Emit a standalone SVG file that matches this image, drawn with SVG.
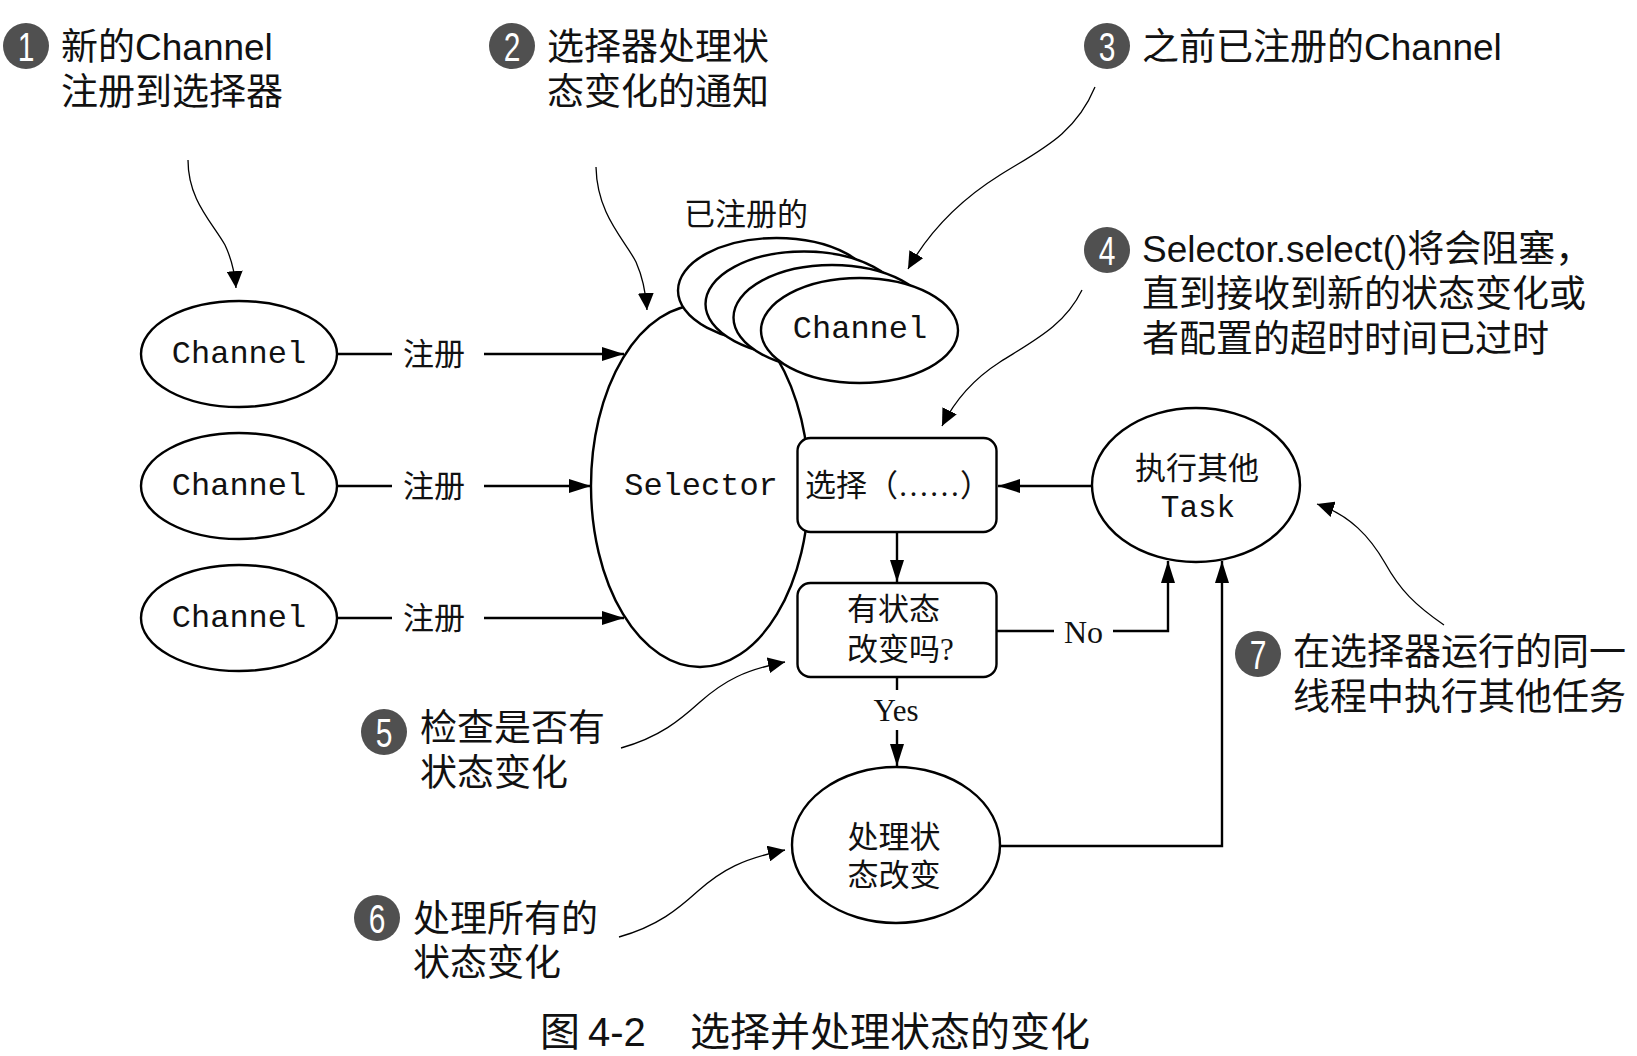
<svg xmlns="http://www.w3.org/2000/svg" width="1637" height="1056" viewBox="0 0 1637 1056">
<defs>
<marker id="ah" markerUnits="userSpaceOnUse" markerWidth="22" markerHeight="14" refX="22" refY="7" orient="auto"><path d="M0,0 L22,7 L0,14 z" fill="#000"/></marker>
<marker id="ahs" markerUnits="userSpaceOnUse" markerWidth="17" markerHeight="16" refX="17" refY="8" orient="auto"><path d="M0,0 L17,8 L0,16 z" fill="#000"/></marker>
</defs>
<style>
.shape{fill:#fff;stroke:#000;stroke-width:2.4}
.conn{fill:none;stroke:#000;stroke-width:2.4}
.call{fill:none;stroke:#000;stroke-width:1.3}
.mono{font-family:"Liberation Mono","DejaVu Sans Mono",monospace;font-size:32px;fill:#111}
.ser{font-family:"Liberation Serif","Noto Sans CJK SC",serif;font-size:31px;fill:#111}
.ann{font-family:"Liberation Sans","Noto Sans CJK SC",sans-serif;font-size:37px;fill:#111}
.num circle{fill:#505050}
.num text{font-family:"Liberation Sans",sans-serif;font-size:40px;fill:#fff;text-anchor:middle}
</style>
<rect width="1637" height="1056" fill="#fff"/>

<g id="selector"><ellipse class="shape" cx="700" cy="486" rx="109" ry="181"/><text class="mono" x="701" y="495" text-anchor="middle">Selector</text></g>

<g id="registered-stack">
<ellipse class="shape" cx="776.5" cy="290.5" rx="98.5" ry="52.5"/>
<ellipse class="shape" cx="804" cy="304" rx="98.5" ry="52.5"/>
<ellipse class="shape" cx="832" cy="317.5" rx="98.5" ry="52.5"/>
<ellipse class="shape" cx="859.5" cy="330.5" rx="98.5" ry="52.5"/>
<text class="mono" x="860" y="338" text-anchor="middle">Channel</text>
<text class="ser" x="746" y="225" text-anchor="middle">已注册的</text>
</g>

<g id="channel1"><ellipse class="shape" cx="239" cy="354" rx="98" ry="53"/><text class="mono" x="239" y="363" text-anchor="middle">Channel</text></g>
<g id="channel2"><ellipse class="shape" cx="239" cy="486" rx="98" ry="53"/><text class="mono" x="239" y="495" text-anchor="middle">Channel</text></g>
<g id="channel3"><ellipse class="shape" cx="239" cy="618" rx="98" ry="53"/><text class="mono" x="239" y="627" text-anchor="middle">Channel</text></g>

<g id="select-box"><rect class="shape" x="797.5" y="438" width="199" height="94" rx="13"/><text class="ser" x="805" y="496">选择（……）</text></g>
<g id="check-box"><rect class="shape" x="797.5" y="583" width="199" height="94" rx="13"/><text class="ser" x="847" y="620">有状态</text><text class="ser" x="847" y="660">改变吗?</text></g>
<g id="task"><ellipse class="shape" cx="1196" cy="485" rx="104" ry="77"/><text class="ser" x="1197" y="479" text-anchor="middle">执行其他</text><text class="mono" x="1198" y="517" text-anchor="middle" style="font-size:31px">Task</text></g>
<g id="process"><ellipse class="shape" cx="896" cy="845" rx="104" ry="78"/><text class="ser" x="894" y="848" text-anchor="middle">处理状</text><text class="ser" x="894" y="886" text-anchor="middle">态改变</text></g>

<g id="connectors">
<path class="conn" d="M337,354 H392"/><path class="conn" d="M484,354 H624" marker-end="url(#ah)"/>
<path class="conn" d="M337,486 H392"/><path class="conn" d="M484,486 H591" marker-end="url(#ah)"/>
<path class="conn" d="M337,618 H392"/><path class="conn" d="M484,618 H624" marker-end="url(#ah)"/>
<text class="ser" x="403" y="365">注册</text>
<text class="ser" x="403" y="497">注册</text>
<text class="ser" x="403" y="629">注册</text>
<path class="conn" d="M1092,486 H998" marker-end="url(#ah)"/>
<path class="conn" d="M897,532 V582" marker-end="url(#ah)"/>
<path class="conn" d="M997,631 H1054"/>
<path class="conn" d="M1113,631 H1168 V561" marker-end="url(#ah)"/>
<text class="ser" x="1064" y="643" style="font-size:32px">No</text>
<path class="conn" d="M897,677 V690"/>
<path class="conn" d="M897,730 V766" marker-end="url(#ah)"/>
<text class="ser" x="896" y="721" text-anchor="middle">Yes</text>
<path class="conn" d="M1000,846 H1222 V561" marker-end="url(#ah)"/>
<path class="call" d="M188,160 C188,200 212,222 225,245 C233,262 235,275 236,288" marker-end="url(#ahs)"/>
<path class="call" d="M596,167 C597,215 625,240 636,262 C644,280 646,295 647,310" marker-end="url(#ahs)"/>
<path class="call" d="M1095,87 C1075,135 1040,150 1000,175 C960,200 930,230 908,269" marker-end="url(#ahs)"/>
<path class="call" d="M1082,290 C1065,325 1035,340 1000,362 C975,378 955,400 942,426" marker-end="url(#ahs)"/>
<path class="call" d="M621,748 C660,737 680,720 700,702 C725,680 745,670 785,662" marker-end="url(#ahs)"/>
<path class="call" d="M619,937 C658,926 678,909 698,891 C723,869 743,859 785,850" marker-end="url(#ahs)"/>
<path class="call" d="M1444,625 C1415,605 1400,590 1385,563 C1370,537 1350,515 1317,504" marker-end="url(#ahs)"/>
</g>

<g id="note1"><g class="num"><circle cx="26" cy="46" r="23"/><text transform="translate(26,61) scale(0.75,1)">1</text></g>
<text class="ann" x="61" y="60">新的Channel</text><text class="ann" x="61" y="105">注册到选择器</text></g>
<g id="note2"><g class="num"><circle cx="512" cy="46" r="23"/><text transform="translate(512,61) scale(0.75,1)">2</text></g>
<text class="ann" x="547" y="60">选择器处理状</text><text class="ann" x="547" y="105">态变化的通知</text></g>
<g id="note3"><g class="num"><circle cx="1107" cy="46" r="23"/><text transform="translate(1107,61) scale(0.75,1)">3</text></g>
<text class="ann" x="1142" y="60">之前已注册的Channel</text></g>
<g id="note4"><g class="num"><circle cx="1107" cy="250" r="23"/><text transform="translate(1107,265) scale(0.75,1)">4</text></g>
<text class="ann" x="1142" y="262">Selector.select()将会阻塞，</text><text class="ann" x="1142" y="307">直到接收到新的状态变化或</text><text class="ann" x="1142" y="352">者配置的超时时间已过时</text></g>
<g id="note5"><g class="num"><circle cx="384" cy="732" r="23"/><text transform="translate(384,747) scale(0.75,1)">5</text></g>
<text class="ann" x="420" y="741">检查是否有</text><text class="ann" x="420" y="786">状态变化</text></g>
<g id="note6"><g class="num"><circle cx="377" cy="918" r="23"/><text transform="translate(377,933) scale(0.75,1)">6</text></g>
<text class="ann" x="413" y="932">处理所有的</text><text class="ann" x="413" y="976">状态变化</text></g>
<g id="note7"><g class="num"><circle cx="1258" cy="654" r="23"/><text transform="translate(1258,669) scale(0.75,1)">7</text></g>
<text class="ann" x="1293" y="665">在选择器运行的同一</text><text class="ann" x="1293" y="710">线程中执行其他任务</text></g>

<g id="caption"><text class="ann" y="1046" style="font-size:40px"><tspan x="540">图</tspan><tspan x="588">4-2</tspan><tspan x="690">选择并处理状态的变化</tspan></text></g>
</svg>
